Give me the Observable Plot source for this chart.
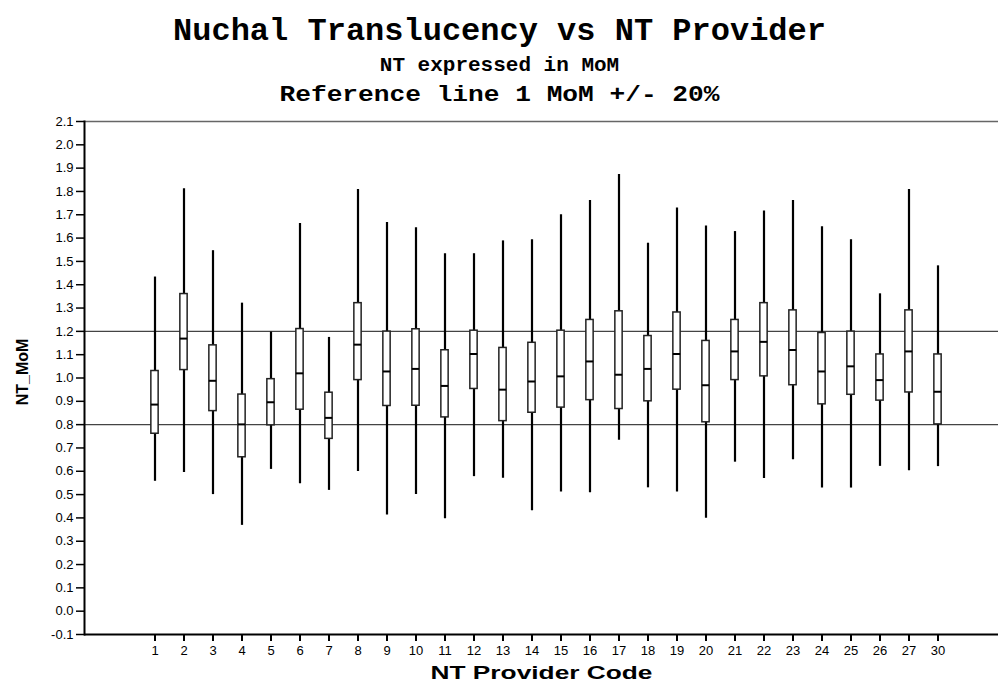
<!DOCTYPE html>
<html>
<head>
<meta charset="utf-8">
<script src="https://cdn.jsdelivr.net/npm/d3@7"></script>
<script src="https://cdn.jsdelivr.net/npm/@observablehq/plot@0.6"></script>
<style>
  html, body { margin: 0; padding: 0; background: white; }
  #chart svg { display: block; }
</style>
</head>
<body>
<div id="chart"></div>
<script>
// NT Provider codes (categories)
const providers = ["1","2","3","4","5","6","7","8","9","10","11","12","13","14","15","16","17","18","19","20","21","22","23","24","25","26","27","30"];
// Whisker low / Q1 / median / Q3 / whisker high (NT MoM)
const whiskerLow  = [0.557,0.595,0.500,0.368,0.608,0.547,0.518,0.599,0.413,0.500,0.396,0.577,0.570,0.431,0.511,0.508,0.733,0.529,0.511,0.399,0.639,0.569,0.649,0.528,0.528,0.621,0.602,0.620];
const q1          = [0.761,1.034,0.858,0.660,0.797,0.864,0.739,0.991,0.880,0.881,0.831,0.953,0.815,0.851,0.873,0.905,0.867,0.900,0.950,0.810,0.991,1.007,0.969,0.887,0.928,0.903,0.938,0.801];
const median      = [0.886,1.169,0.988,0.801,0.896,1.020,0.829,1.143,1.028,1.039,0.966,1.103,0.950,0.985,1.007,1.071,1.014,1.039,1.103,0.969,1.114,1.155,1.120,1.028,1.050,0.991,1.114,0.941];
const q3          = [1.030,1.360,1.140,0.929,0.995,1.210,0.937,1.321,1.199,1.209,1.119,1.203,1.129,1.151,1.203,1.249,1.286,1.180,1.281,1.159,1.249,1.321,1.290,1.193,1.199,1.101,1.290,1.101];
const whiskerHigh = [1.433,1.812,1.546,1.321,1.197,1.663,1.174,1.808,1.667,1.644,1.533,1.533,1.588,1.593,1.700,1.761,1.873,1.578,1.729,1.652,1.628,1.716,1.761,1.649,1.593,1.361,1.808,1.481];
// Reference lines: 1 MoM +/- 20%
const refLines = [0.8, 1.2];
// Y tick labels
const yTicks = [-0.1,0.0,0.1,0.2,0.3,0.4,0.5,0.6,0.7,0.8,0.9,1.0,1.1,1.2,1.3,1.4,1.5,1.6,1.7,1.8,1.9,2.0,2.1];
const yDomain = [-0.1, 2.1];

const title = "Nuchal Translucency vs NT Provider";
const subtitle1 = "NT expressed in MoM";
const subtitle2 = "Reference line 1 MoM +/- 20%";
const xLabel = "NT Provider Code";
const yLabel = "NT_MoM";

const data = providers.map((p, i) => ({
  p, lo: whiskerLow[i], q1: q1[i], med: median[i], q3: q3[i], hi: whiskerHigh[i]
}));

const W = 998, H = 682;
const mL = 84, mR = 0, mT = 121, mB = 48;
const firstX = 145, lastX = 947;
const step = (lastX - firstX) / (providers.length - 1);
const boxW = 8;
const inset = (step - boxW) / 2;

const mono = "'Liberation Mono', 'Courier New', monospace";

const chart = Plot.plot({
  width: W, height: H,
  marginLeft: mL, marginRight: mR, marginTop: mT, marginBottom: mB,
  style: { fontFamily: "'Liberation Sans', Arial, sans-serif", fontSize: "13px", color: "black", background: "white", overflow: "visible" },
  x: { type: "band", domain: providers, range: [firstX - step / 2, lastX + step / 2], padding: 0 },
  y: { domain: yDomain },
  marks: [
    Plot.ruleY(refLines, { stroke: "#444", strokeWidth: 1.2 }),
    Plot.ruleY([yDomain[1]], { stroke: "#666", strokeWidth: 1.6 }),
    Plot.ruleX(data, { x: "p", y1: "lo", y2: "hi", stroke: "black", strokeWidth: 2.2 }),
    Plot.barY(data, { x: "p", y1: "q1", y2: "q3", fill: "white", stroke: "#222", strokeWidth: 1.5, insetLeft: inset, insetRight: inset }),
    Plot.tickY(data, { x: "p", y: "med", stroke: "black", strokeWidth: 2, insetLeft: inset, insetRight: inset }),
    Plot.axisY({ ticks: yTicks, tickFormat: d => d.toFixed(1), tickSize: 8, tickPadding: 3, label: null, fontSize: 13, strokeWidth: 1.5 }),
    Plot.axisX({ tickSize: 7, tickPadding: 4, label: null, fontSize: 13, strokeWidth: 2 }),
    Plot.ruleY([yDomain[0]], { stroke: "black", strokeWidth: 2 }),
    Plot.frame({ anchor: "left", stroke: "black", strokeWidth: 2 }),
    Plot.text([xLabel], { frameAnchor: "bottom", dy: 44, lineAnchor: "bottom", fontWeight: "bold", fontSize: 18, className: "xlabel" }),
    Plot.text([yLabel], { frameAnchor: "left", textAnchor: "middle", dx: -62, dy: -6, rotate: -90, fontWeight: "bold", fontSize: 16, className: "ylabel" }),
    Plot.text([title], { frameAnchor: "top", dx: -42, dy: -82, lineAnchor: "bottom", fontWeight: "bold", fontSize: 32, fontFamily: mono }),
    Plot.text([subtitle1], { frameAnchor: "top", dx: -42, dy: -51, lineAnchor: "bottom", fontWeight: "bold", fontSize: 21, fontFamily: mono }),
    Plot.text([subtitle2], { frameAnchor: "top", dx: -42, dy: -21, lineAnchor: "bottom", fontWeight: "bold", fontSize: 22, fontFamily: mono, className: "sub2" })
  ]
});

// stretch some labels horizontally like the reference
d3.select(chart).selectAll("g.xlabel text").attr("textLength", 222).attr("lengthAdjust", "spacingAndGlyphs");
d3.select(chart).selectAll("g.sub2 text").attr("textLength", 440).attr("lengthAdjust", "spacingAndGlyphs");

document.getElementById("chart").appendChild(chart);
</script>
</body>
</html>
